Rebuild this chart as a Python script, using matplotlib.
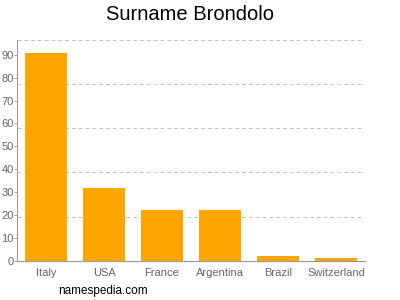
import matplotlib
matplotlib.use("Agg")
import matplotlib.pyplot as plt

plt.rcParams["font.family"] = ["Liberation Sans", "DejaVu Sans"]

# surname counts by country
countries = ["Italy", "USA", "France", "Argentina", "Brazil", "Switzerland"]
counts = [91, 32, 22, 22, 2, 1]
ytick_values = [0, 10, 20, 30, 40, 50, 60, 70, 80, 90]

ymax = 96.5

fig = plt.figure(figsize=(4, 3), dpi=100)
ax = fig.add_axes([0.0425, 0.131, 0.87, 0.7357])

ax.bar(range(len(countries)), counts, width=0.74, color="#ffa500", zorder=2)

# dashed grid at fifths of the axis height
for k in range(1, 6):
    ax.axhline(ymax * k / 5, color="#c4c4c4", linestyle=(0, (4, 3)), linewidth=0.7, zorder=1)

ax.set_xlim(-0.5, len(countries) - 0.5)
ax.set_ylim(0, ymax)
ax.set_yticks(ytick_values)
ax.set_xticks(range(len(countries)))
ax.set_xticklabels(countries)

for s in ["top", "right"]:
    ax.spines[s].set_visible(False)
for s in ["left", "bottom"]:
    ax.spines[s].set_color("#999999")
    ax.spines[s].set_linewidth(0.8)

ax.tick_params(axis="y", labelsize=8, colors="#999999", length=2, width=0.6, pad=0.5)
ax.tick_params(axis="x", labelsize=8, colors="#999999", length=0, pad=5)
for lbl in ax.get_yticklabels() + ax.get_xticklabels():
    lbl.set_color("#666666")

fig.text(0.475, 0.953, "Surname Brondolo", ha="center", va="center", fontsize=14.5, color="#000000")
fig.text(0.145, 0.03, "namespedia.com", ha="left", va="center", fontsize=8.5, color="#000000")

fig.savefig("out.png", dpi=100)
